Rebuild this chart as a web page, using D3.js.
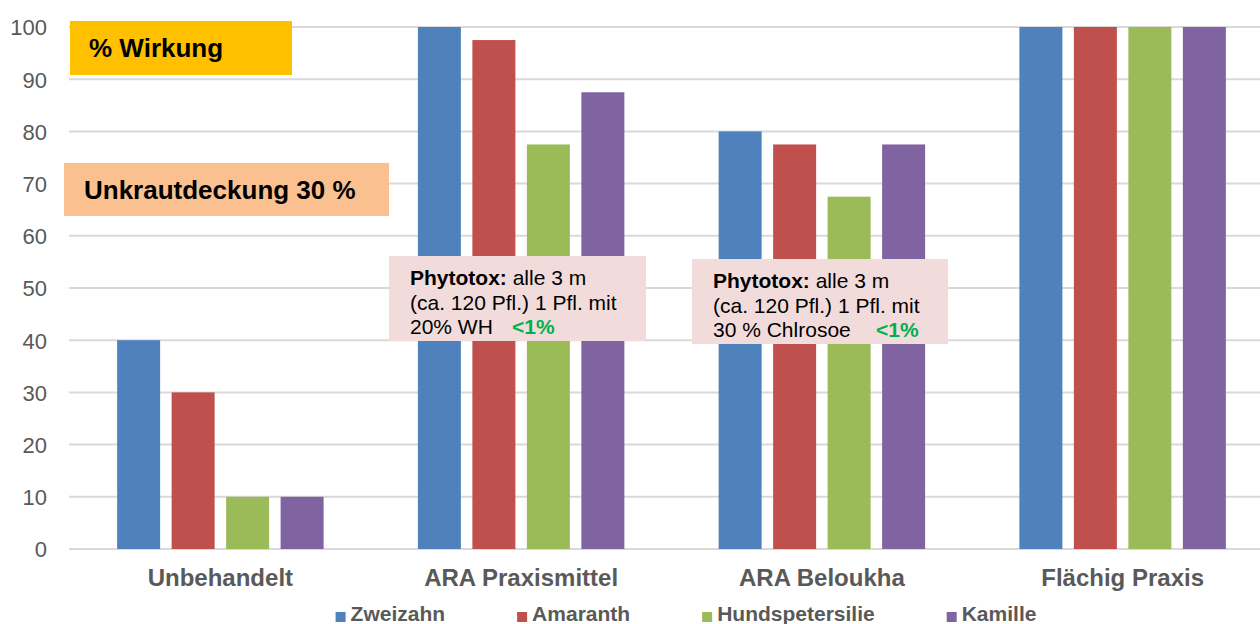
<!DOCTYPE html>
<html>
<head>
<meta charset="utf-8">
<script src="https://cdn.jsdelivr.net/npm/d3@7"></script>
<style>
  html, body { margin: 0; padding: 0; background: #fff; }
  svg { display: block; font-family: "Liberation Sans", Arial, sans-serif; }
</style>
</head>
<body>
<svg id="chart" width="1260" height="624"></svg>
<script>
// Treatments on the x axis
const categories = ["Unbehandelt", "ARA Praxismittel", "ARA Beloukha", "Flächig Praxis"];
// Weed species (one bar per species in every treatment group)
const series = ["Zweizahn", "Amaranth", "Hundspetersilie", "Kamille"];
// Efficacy (% Wirkung) per species, in category order
const zweizahn = [40, 100, 80, 100];
const amaranth = [30, 97.5, 77.5, 100];
const hundspetersilie = [10, 77.5, 67.5, 100];
const kamille = [10, 87.5, 77.5, 100];
const yTicks = [0, 10, 20, 30, 40, 50, 60, 70, 80, 90, 100];
const colors = ["#4F81BD", "#C0504D", "#9BBB59", "#8064A2"];

const values = [zweizahn, amaranth, hundspetersilie, kamille];
const rows = categories.map((c, i) => ({
  category: c,
  bars: series.map((s, j) => ({ key: s, value: values[j][i], color: colors[j] }))
}));

const svg = d3.select("#chart");
const plot = { left: 70, right: 1273, top: 27, bottom: 549 };

const y = d3.scaleLinear().domain([0, 100]).range([plot.bottom, plot.top]);
const x0 = d3.scaleBand().domain(categories).range([plot.left, plot.right]).padding(0);
const x1 = d3.scaleBand().domain(series).range([0, x0.bandwidth()])
  .paddingInner(0.211).paddingOuter(0.865);

// Horizontal gridlines
svg.append("g")
  .selectAll("line")
  .data(yTicks)
  .join("line")
  .attr("x1", plot.left - 1)
  .attr("x2", 1260)
  .attr("y1", d => y(d))
  .attr("y2", d => y(d))
  .attr("stroke", "#D9D9D9")
  .attr("stroke-width", 2);

// Y axis tick labels
const yAxis = d3.axisLeft(y).tickValues(yTicks).tickSize(0).tickPadding(0);
const gy = svg.append("g").attr("transform", "translate(47,0)").call(yAxis);
gy.select(".domain").remove();
gy.selectAll("text")
  .attr("font-size", 22)
  .attr("fill", "#595959")
  .attr("font-family", "Liberation Sans, Arial, sans-serif")
  .attr("dy", "0.36em");

// Bars
const groups = svg.append("g")
  .selectAll("g")
  .data(rows)
  .join("g")
  .attr("transform", d => `translate(${x0(d.category)},0)`);

groups.selectAll("rect")
  .data(d => d.bars)
  .join("rect")
  .attr("x", d => x1(d.key))
  .attr("width", x1.bandwidth())
  .attr("y", d => y(d.value))
  .attr("height", d => y(0) - y(d.value))
  .attr("fill", d => d.color);

// Category axis labels
const xAxis = d3.axisBottom(x0).tickSize(0).tickPadding(0);
const gx = svg.append("g").attr("transform", `translate(0,${plot.bottom})`).call(xAxis);
gx.select(".domain").remove();
gx.selectAll("text")
  .attr("font-size", 24)
  .attr("font-weight", "bold")
  .attr("fill", "#595959")
  .attr("font-family", "Liberation Sans, Arial, sans-serif")
  .attr("y", 37)
  .attr("dy", 0);

// Legend, laid out from measured text widths and centred
const legend = svg.append("g");
const items = legend.selectAll("g").data(series).join("g");
items.append("rect")
  .attr("width", 10).attr("height", 10)
  .attr("y", -9)
  .attr("fill", (d, i) => colors[i]);
items.append("text")
  .attr("x", 15)
  .attr("font-size", 21)
  .attr("font-weight", "bold")
  .attr("fill", "#595959")
  .text(d => d);
let cursor = 0;
const offsets = [];
items.each(function () {
  const w = this.querySelector("text").getComputedTextLength();
  offsets.push(cursor);
  cursor += 15 + w + 72;
});
const totalW = cursor - 72;
const legendStart = 686 - totalW / 2;
items.attr("transform", (d, i) => `translate(${legendStart + offsets[i]},621)`);

// Annotation boxes
function box(x, yTop, w, h, fill) {
  svg.append("rect").attr("x", x).attr("y", yTop).attr("width", w).attr("height", h).attr("fill", fill);
}

box(70, 21, 222, 54, "#FFC000");
svg.append("text").attr("x", 89).attr("y", 57)
  .attr("font-size", 26).attr("font-weight", "bold").attr("fill", "#000")
  .text("% Wirkung");

box(64, 163, 325, 53, "#FAC090");
svg.append("text").attr("x", 84).attr("y", 199)
  .attr("font-size", 26).attr("font-weight", "bold").attr("fill", "#000")
  .text("Unkrautdeckung 30 %");

function phytoBox(x, yTop, w, h, lastLine, pctX) {
  box(x, yTop, w, h, "#F2DCDB");
  const tx = x + 21;
  const t1 = svg.append("text").attr("x", tx).attr("y", yTop + 29).attr("font-size", 21).attr("fill", "#000");
  t1.append("tspan").attr("font-weight", "bold").text("Phytotox:");
  t1.append("tspan").text(" alle 3 m");
  svg.append("text").attr("x", tx).attr("y", yTop + 54).attr("font-size", 21).attr("fill", "#000")
    .text("(ca. 120 Pfl.) 1 Pfl. mit");
  svg.append("text").attr("x", tx).attr("y", yTop + 78).attr("font-size", 21).attr("fill", "#000")
    .text(lastLine);
  svg.append("text").attr("x", pctX).attr("y", yTop + 78).attr("font-size", 21)
    .attr("font-weight", "bold").attr("fill", "#00B050").text("<1%");
}
phytoBox(389, 256, 257, 85, "20% WH", 512);
phytoBox(692, 259, 256, 85, "30 % Chlrosoe", 876);
</script>
</body>
</html>
